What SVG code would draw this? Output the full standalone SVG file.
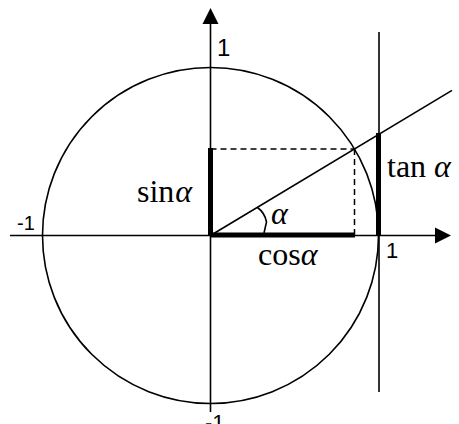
<svg xmlns="http://www.w3.org/2000/svg" width="459" height="424" viewBox="0 0 459 424">
<style>
.thin{stroke:#000;stroke-width:1.6;fill:none}
.thick{stroke:#000;stroke-width:5;fill:none}
.dash{stroke:#000;stroke-width:1.5;fill:none;stroke-dasharray:6 4}
.num{font-family:"Liberation Sans",Arial,sans-serif;fill:#000}
.math{font-family:"Liberation Serif","Times New Roman",serif;font-size:32px;fill:#000}
.gr{font-style:italic}
</style>
<rect width="459" height="424" fill="#fff"/>
<g id="circle"><circle class="thin" cx="210.5" cy="235.5" r="168"/></g>
<g id="connectors">
<line class="thin" x1="210.5" y1="412" x2="210.5" y2="22"/>
<polygon points="210.5,8 202.5,24 218.5,24" fill="#000"/>
<line class="thin" x1="10" y1="235.5" x2="437" y2="235.5"/>
<polygon points="451,235.5 435,227.5 435,243.5" fill="#000"/>
<line class="thin" x1="379" y1="32" x2="379" y2="392"/>
<line class="thin" x1="210.5" y1="235.5" x2="452" y2="90.4"/>
<line class="dash" x1="210.5" y1="149" x2="354.5" y2="149"/>
<line class="dash" x1="354.5" y1="149" x2="354.5" y2="235.5"/>
<line class="thick" x1="210.5" y1="148" x2="210.5" y2="235.5"/>
<line class="thick" x1="210.5" y1="235" x2="355" y2="235"/>
<line class="thick" x1="378.5" y1="133" x2="378.5" y2="235.5"/>
<path class="thin" d="M257.5,207.5 Q265,213 266.5,222 L264,233"/>
</g>
<g id="labels">
<text class="num" x="217" y="56" font-size="24">1</text>
<text class="num" x="17" y="230" font-size="20">-1</text>
<text class="num" x="386" y="258" font-size="22">1</text>
<text class="num" x="205" y="430" font-size="22">-1</text>
<text class="math" x="137" y="202">sin<tspan class="gr" dx="1">α</tspan></text>
<text class="math" x="258" y="265">cos<tspan class="gr">α</tspan></text>
<text class="math" x="387" y="177">tan <tspan class="gr">α</tspan></text>
<text class="math" x="271" y="224"><tspan class="gr">α</tspan></text>
</g>
</svg>
